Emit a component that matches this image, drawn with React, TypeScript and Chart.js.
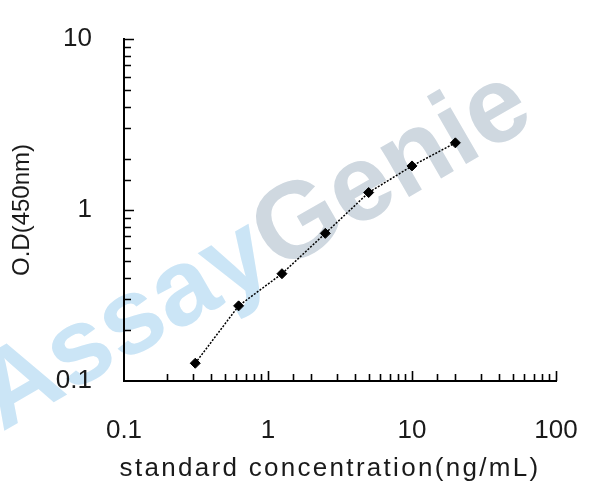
import React, { useEffect, useRef } from "react";
import { Chart, registerables } from "chart.js";

Chart.register(...registerables);

const concentrations = [0.3125, 0.625, 1.25, 2.5, 5, 10, 20];
const odValues = [0.127, 0.275, 0.424, 0.73, 1.265, 1.81, 2.47];
const xTickLabels = ["0.1", "1", "10", "100"];
const yTickLabels = ["0.1", "1", "10"];
const xTitle = "standard concentration(ng/mL)";
const yTitle = "O.D(450nm)";
const watermarkParts = ["Assay", "Genie"];

const FONT = '"Liberation Sans", Arial, sans-serif';

const isDecade = (v: number) =>
  Math.abs(Math.log10(v) - Math.round(Math.log10(v))) < 1e-6;

const labelFor = (labels: string[]) => (value: any) => {
  const v = Number(value);
  const m = labels.find(
    (l) => Math.abs(Math.log10(parseFloat(l)) - Math.log10(v)) < 1e-6
  );
  return m ?? "";
};

const watermarkPlugin = {
  id: "watermark",
  beforeDraw(chart: any) {
    const ctx = chart.ctx as CanvasRenderingContext2D;
    ctx.save();
    ctx.fillStyle = "#ffffff";
    ctx.fillRect(0, 0, chart.width, chart.height);
    ctx.translate(2, 432);
    ctx.rotate((-30 * Math.PI) / 180);
    ctx.font = `bold 108px ${FONT}`;
    ctx.textBaseline = "alphabetic";
    ctx.fillStyle = "#cbe5f6";
    ctx.fillText(watermarkParts[0], 0, 0);
    const w = ctx.measureText(watermarkParts[0]).width;
    ctx.fillStyle = "#cfd8e0";
    ctx.fillText(watermarkParts[1], w, 0);
    ctx.restore();

    const sx: any = chart.scales.x;
    if (sx && !sx.__spaced) {
      const orig = sx.drawTitle.bind(sx);
      sx.drawTitle = function () {
        const c: any = this.ctx;
        c.save();
        c.translate(-10, 0);
        c.letterSpacing = "2.3px";
        orig();
        c.restore();
      };
      sx.__spaced = true;
    }
  },
};

const innerTicksPlugin = {
  id: "innerTicks",
  afterDraw(chart: any) {
    const { ctx, chartArea, scales } = chart;
    const sx = scales.x;
    const sy = scales.y;
    ctx.save();
    ctx.strokeStyle = "#000";
    ctx.lineWidth = 1.6;
    ctx.beginPath();
    for (const t of sx.ticks) {
      const v = t.value;
      if (v <= sx.min * 1.0001 || v > sx.max * 1.0001) continue;
      const px = Math.round(sx.getPixelForValue(v)) + 0.5;
      const len = isDecade(v) ? 10 : 7;
      ctx.moveTo(px, chartArea.bottom);
      ctx.lineTo(px, chartArea.bottom - len);
    }
    for (const t of sy.ticks) {
      const v = t.value;
      if (v <= sy.min * 1.0001 || v > sy.max * 1.0001) continue;
      const py = Math.round(sy.getPixelForValue(v)) + 0.5;
      const len = isDecade(v) ? 10 : 7;
      ctx.moveTo(chartArea.left, py);
      ctx.lineTo(chartArea.left + len, py);
    }
    ctx.stroke();
    ctx.restore();
  },
};

const zeroPadding = (s: any) => {
  s.paddingTop = 0;
  s.paddingBottom = 0;
  s.paddingLeft = 0;
  s.paddingRight = 0;
};

export default function App() {
  const ref = useRef<HTMLCanvasElement>(null);

  useEffect(() => {
    const canvas = ref.current;
    if (!canvas) return;
    const points = concentrations.map((x, i) => ({ x, y: odValues[i] }));
    const chart = new Chart(canvas, {
      type: "line",
      data: {
        datasets: [
          {
            data: points,
            borderColor: "#000",
            borderWidth: 1.5,
            borderDash: [2, 1.5],
            pointStyle: "rectRot",
            pointRadius: 5,
            pointBackgroundColor: "#000",
            pointBorderColor: "#000",
            pointBorderWidth: 1,
            tension: 0,
            fill: false,
          },
        ],
      },
      options: {
        animation: false,
        responsive: false,
        maintainAspectRatio: false,
        devicePixelRatio: 1,
        layout: { padding: { top: 39, right: 52, left: 0, bottom: 0 } },
        plugins: {
          legend: { display: false },
          tooltip: { enabled: false },
        },
        scales: {
          x: {
            type: "logarithmic",
            position: "bottom",
            min: 0.1,
            max: 100,
            grid: { display: false, drawTicks: false },
            border: { display: true, color: "#000", width: 2 },
            ticks: {
              autoSkip: false,
              maxRotation: 0,
              minRotation: 0,
              padding: 34,
              color: "#1a1a1a",
              font: { family: FONT, size: 26 },
              callback: labelFor(xTickLabels),
            },
            title: {
              display: true,
              text: xTitle,
              color: "#1a1a1a",
              font: { family: FONT, size: 26 },
              padding: { top: 0, bottom: 17 },
            },
            afterFit: (s: any) => {
              s.height = 120;
              zeroPadding(s);
            },
          },
          y: {
            type: "logarithmic",
            position: "left",
            min: 0.1,
            max: 10,
            grid: { display: false, drawTicks: false },
            border: { display: true, color: "#000", width: 2 },
            ticks: {
              autoSkip: false,
              padding: 32,
              color: "#1a1a1a",
              font: { family: FONT, size: 26 },
              callback: labelFor(yTickLabels),
            },
            title: {
              display: true,
              text: yTitle,
              color: "#1a1a1a",
              font: { family: FONT, size: 24 },
              padding: { top: 8, bottom: 0 },
            },
            afterFit: (s: any) => {
              s.width = 124;
              zeroPadding(s);
            },
          },
        },
      } as any,
      plugins: [watermarkPlugin, innerTicksPlugin],
    });
    return () => chart.destroy();
  }, []);

  return (
    <div
      style={{
        position: "fixed",
        left: 0,
        top: 0,
        width: 608,
        height: 501,
        background: "#fff",
      }}
    >
      <canvas ref={ref} width={608} height={501} />
    </div>
  );
}
